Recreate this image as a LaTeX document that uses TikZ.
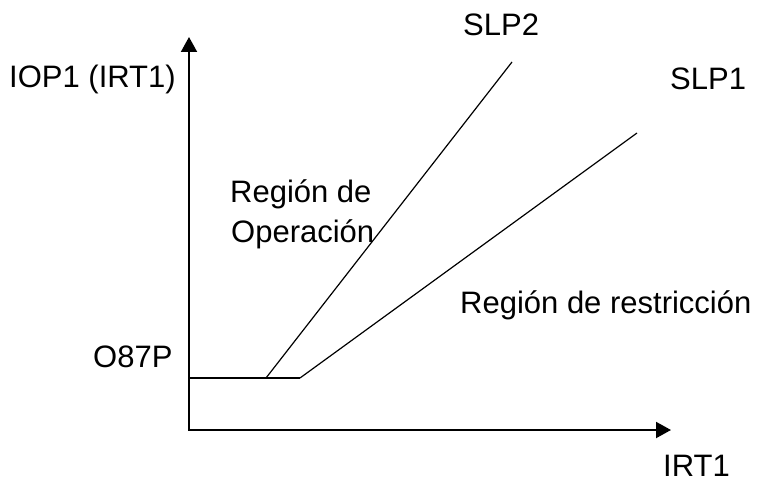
\documentclass[tikz,border=0pt]{standalone}
\usepackage{fontspec}
\setmainfont{Liberation Sans}
\usetikzlibrary{arrows.meta}
\begin{document}
\begin{tikzpicture}[x=1pt,y=-1pt,
  lbl/.style={anchor=base west,inner sep=0pt,font=\fontsize{31}{38}\selectfont},
  axis/.style={line width=2pt,-{Triangle[length=15pt,width=16pt]}},
  thin/.style={line width=1.2pt}]
\useasboundingbox (0,0) rectangle (762,481);
\coordinate (O) at (189,430);
\coordinate (ytop) at (189,37);
\coordinate (xend) at (671,430);
\coordinate (t0) at (189,378);
\coordinate (k2) at (266,378);
\coordinate (k1) at (300,378);
\coordinate (e2) at (512,62);
\coordinate (e1) at (637,133);
\draw[axis] ([yshift=1pt]O) -- (ytop);
\draw[axis] ([xshift=-1pt]O) -- (xend);
\draw[thin] (t0) -- (k1);
\draw[thin] (k2) -- (e2);
\draw[thin] (k1) -- (e1);
\node[lbl] (iop) at (9,88) {IOP1 (IRT1)};
\node[lbl] (slp2) at (463,36) {SLP2};
\node[lbl] (slp1) at (670,90) {SLP1};
\node[lbl] (rop1) at (230,202) {Región de};
\node[lbl] (rop2) at (231,242) {Operación};
\node[lbl] (rres) at (460,313) {Región de restricción};
\node[lbl] (o87) at (93,367) {O87P};
\node[lbl] (irt) at (663,476) {IRT1};
\end{tikzpicture}
\end{document}
